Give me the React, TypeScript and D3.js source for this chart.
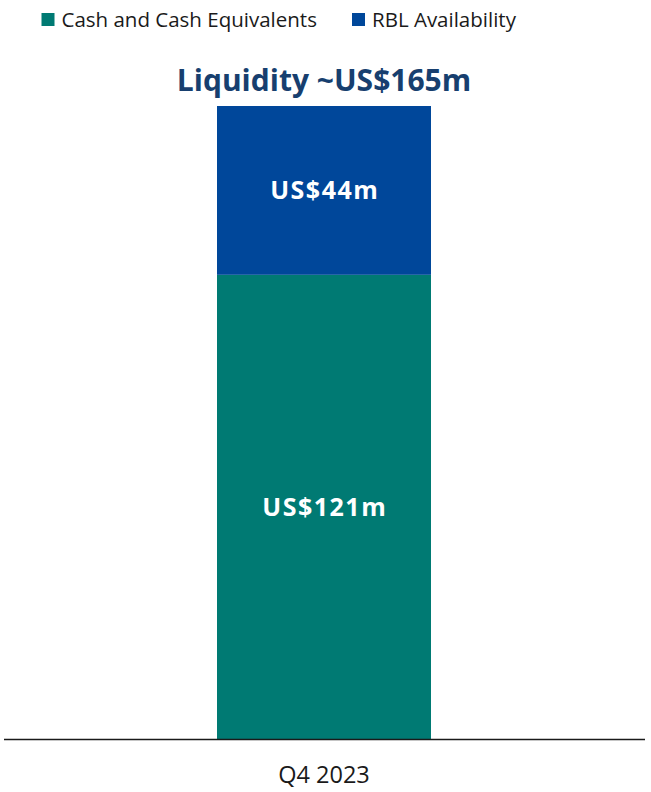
import React, { useRef, useEffect } from 'react';
import * as d3 from 'd3';

const categories = ['Q4 2023'];
const seriesNames = ['Cash and Cash Equivalents', 'RBL Availability'];
const cashValues = [121];
const rblValues = [44];
const segmentLabels = [['US$121m', 'US$44m']];
const titleText = 'Liquidity ~US$165m';
const colors = ['#007A73', '#00479A'];

const App: React.FC = () => {
  const svgRef = useRef<SVGSVGElement>(null);

  useEffect(() => {
    if (!svgRef.current) return;
    document.body.style.margin = '0';
    const width = 651;
    const height = 792;
    const svg = d3.select(svgRef.current);
    svg.selectAll('*').remove();
    svg.attr('width', width).attr('height', height);

    const baseY = 739;
    const x = d3.scaleBand<string>()
      .domain(categories)
      .range([5, 643])
      .paddingInner(0)
      .paddingOuter(0.5);
    const barW = 214;

    const y = d3.scaleLinear().domain([0, 165]).range([baseY, 106]);

    const stack = d3.stack<any>().keys(['cash', 'rbl']);
    const rows = categories.map((c, i) => ({ cat: c, cash: cashValues[i], rbl: rblValues[i] }));
    const layers = stack(rows);

    layers.forEach((layer, li) => {
      layer.forEach((d, i) => {
        const cx = (x(categories[i]) as number) + x.bandwidth() / 2;
        svg.append('rect')
          .attr('x', cx - barW / 2)
          .attr('y', y(d[1]))
          .attr('width', barW)
          .attr('height', y(d[0]) - y(d[1]))
          .attr('fill', colors[li]);
        svg.append('text')
          .attr('x', cx + 0.75)
          .attr('y', (y(d[0]) + y(d[1])) / 2)
          .attr('dy', '0.36em')
          .attr('text-anchor', 'middle')
          .attr('font-family', '"Open Sans", sans-serif')
          .attr('font-weight', 'bold')
          .attr('font-size', 25)
          .attr('letter-spacing', 1.5)
          .attr('fill', '#ffffff')
          .text(segmentLabels[i][li]);
      });
    });

    // axis
    svg.append('line')
      .attr('x1', 4).attr('x2', 645)
      .attr('y1', baseY + 0.5).attr('y2', baseY + 0.5)
      .attr('stroke', '#1a1a1a').attr('stroke-width', 1.5);

    categories.forEach(c => {
      svg.append('text')
        .attr('x', (x(c) as number) + x.bandwidth() / 2)
        .attr('y', 783)
        .attr('text-anchor', 'middle')
        .attr('font-family', '"Open Sans", sans-serif')
        .attr('font-size', 23.5)
        .attr('fill', '#1a1a1a')
        .text(c);
    });

    // title
    svg.append('text')
      .attr('x', 324)
      .attr('y', 91)
      .attr('text-anchor', 'middle')
      .attr('font-family', '"Open Sans", sans-serif')
      .attr('font-weight', 'bold')
      .attr('font-size', 30)
      .attr('fill', '#173F6F')
      .text(titleText);

    // legend
    const legendX = [41.5, 352];
    seriesNames.forEach((name, i) => {
      const g = svg.append('g').attr('transform', `translate(${legendX[i]},13)`);
      g.append('rect').attr('width', 13).attr('height', 13).attr('fill', colors[i]);
      g.append('text')
        .attr('x', 20)
        .attr('y', 13.7)
        .attr('font-family', '"Open Sans", sans-serif')
        .attr('font-size', 20.5)
        .attr('fill', '#1a1a1a')
        .text(name);
    });
  }, []);

  return <svg ref={svgRef}></svg>;
};

export default App;
